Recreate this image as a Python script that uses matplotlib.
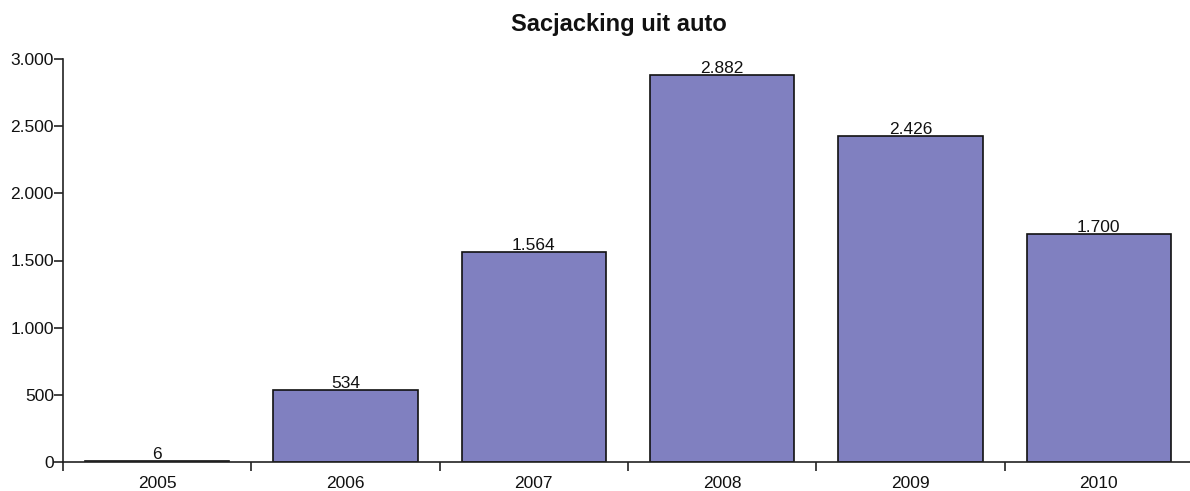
import matplotlib
matplotlib.use("Agg")
import matplotlib.pyplot as plt
from matplotlib.ticker import FuncFormatter, FixedLocator
import numpy as np

years = ["2005", "2006", "2007", "2008", "2009", "2010"]
values = [6, 534, 1564, 2882, 2426, 1700]
yticks = [0, 500, 1000, 1500, 2000, 2500, 3000]

plt.rcParams['font.family'] = ['Liberation Sans', 'DejaVu Sans']

def fmt(v):
    return f"{int(v):,}".replace(",", ".")

fig = plt.figure(figsize=(11.9, 4.91), dpi=100)
ax = fig.add_axes([63/1190, 29/491, 1130/1190, 403/491])

x = np.arange(len(years))
bars = ax.bar(x, values, width=0.765, color="#8080C0", edgecolor="#111111", linewidth=1.2)
for xi, v in zip(x, values):
    ax.annotate(fmt(v), (xi, v), xytext=(0, 1.5), textcoords="offset points",
                ha="center", va="baseline", fontsize=12.5, color="#111111")

ax.set_xlim(-0.5, len(years) - 0.5)
ax.set_ylim(0, 3000)
ax.set_yticks(yticks)
ax.yaxis.set_major_formatter(FuncFormatter(lambda v, p: fmt(v)))
ax.set_xticks(x)
ax.set_xticklabels(years)
ax.xaxis.set_minor_locator(FixedLocator(np.arange(len(years)) - 0.5))
ax.tick_params(axis="x", which="major", length=0, pad=10, labelsize=12.5, labelcolor="#111111")
ax.tick_params(axis="x", which="minor", length=6.5, width=1.2, direction="out", color="#222222")
ax.tick_params(axis="y", length=6.5, width=1.2, direction="out", labelsize=12.5, pad=0,
               labelcolor="#111111", color="#222222")
for s in ["top", "right"]:
    ax.spines[s].set_visible(False)
ax.spines["left"].set_linewidth(1.2)
ax.spines["bottom"].set_linewidth(1.2)
ax.spines["left"].set_color("#222222")
ax.spines["bottom"].set_color("#222222")

fig.text(619/1190, 1 - 25/491, "Sacjacking uit auto", ha="center", va="center",
         fontsize=17, fontweight="bold", color="#111111")

fig.savefig("out.png", dpi=100)
